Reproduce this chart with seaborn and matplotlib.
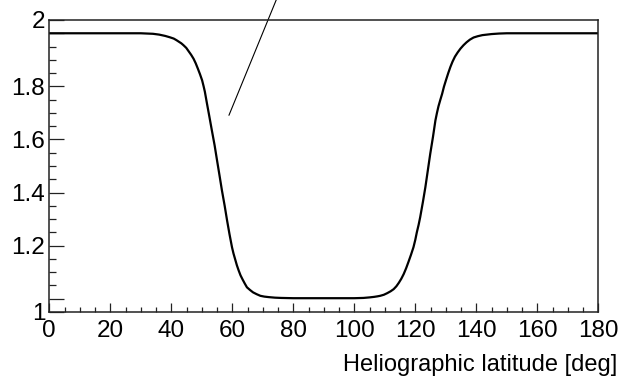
import matplotlib
matplotlib.use("Agg")
import matplotlib.pyplot as plt
import seaborn as sns
import pandas as pd
from matplotlib.ticker import MultipleLocator, FixedLocator

# ---- data ----
latitude = [0, 10, 20, 30, 32, 34, 36, 38, 39.5, 40.8, 41.7, 42.5, 43.3, 44.0, 44.9,
            45.7, 46.5, 47.3, 48.0, 48.7, 49.4, 50.1, 50.6, 51.0, 51.7, 52.5, 53.3,
            54.2, 55.0, 55.8, 56.6, 57.5, 58.3, 59.1, 59.9, 60.4, 61.0, 61.5, 62.1,
            62.7, 63.4, 64.1, 64.8, 65.8, 66.8, 68.0, 69.2, 70.5, 72.0, 74, 76, 80,
            85, 90, 95, 100, 103, 105, 106.5, 107.6, 108.5, 109.7, 110.8, 111.9,
            112.9, 113.8, 114.6, 115.4, 116.2, 117.0, 117.8, 118.6, 119.4, 120.0,
            120.5, 121.1, 121.6, 122.5, 123.3, 124.1, 124.9, 125.8, 126.6, 127.1,
            127.6, 128.2, 128.8, 129.4, 130.1, 130.8, 131.5, 132.2, 133.0, 133.9,
            134.8, 135.8, 136.8, 137.9, 139.1, 140.5, 142, 143.5, 145, 147.5, 150,
            160, 170, 180]
ratio = [2.0, 2.0, 2.0, 2.0, 1.999, 1.998, 1.995, 1.990, 1.985, 1.980, 1.974, 1.968,
         1.962, 1.955, 1.945, 1.932, 1.919, 1.904, 1.887, 1.867, 1.846, 1.823, 1.800,
         1.780, 1.735, 1.685, 1.634, 1.578, 1.521, 1.465, 1.408, 1.350, 1.294, 1.242,
         1.194, 1.170, 1.146, 1.126, 1.106, 1.088, 1.072, 1.057, 1.043, 1.033, 1.024,
         1.017, 1.011, 1.008, 1.006, 1.004, 1.003, 1.002, 1.002, 1.002, 1.002, 1.002,
         1.003, 1.005, 1.007, 1.009, 1.011, 1.015, 1.021, 1.028, 1.036, 1.047, 1.060,
         1.075, 1.093, 1.115, 1.140, 1.166, 1.194, 1.222, 1.250, 1.279, 1.307, 1.365,
         1.420, 1.483, 1.546, 1.610, 1.672, 1.700, 1.725, 1.749, 1.772, 1.799, 1.825,
         1.850, 1.873, 1.893, 1.912, 1.928, 1.942, 1.955, 1.966, 1.976, 1.984, 1.989,
         1.993, 1.995, 1.997, 1.999, 2.0, 2.0, 2.0, 2.0]

# pointer line (from outside the frame down to the curve)
pointer_x = [75.7, 58.9]
pointer_y = [2.162, 1.691]

y_tick_values = [0.95, 1.0, 1.2, 1.4, 1.6, 1.8, 2.0, 2.05]
y_tick_labels = ["1", "", "1.2", "1.4", "1.6", "1.8", "", "2"]
x_tick_values = [0, 20, 40, 60, 80, 100, 120, 140, 160, 180]
x_tick_labels = ["0", "20", "40", "60", "80", "100", "120", "140", "160", "180"]
x_label = "Heliographic latitude [deg]"

df = pd.DataFrame({"lat": latitude, "ratio": ratio})

sns.set_theme(style="white")
plt.rcParams["font.family"] = ["Liberation Sans", "DejaVu Sans"]

fig = plt.figure(figsize=(6.2, 3.79), dpi=100)
W, H = 620, 379
left, right, top, bottom = 49.3, 598.3, 20, 312
ax = fig.add_axes([left / W, 1 - bottom / H, (right - left) / W, (bottom - top) / H])

sns.lineplot(data=df, x="lat", y="ratio", ax=ax, color="black", linewidth=1.6,
             sort=False, estimator=None)
ax.plot(pointer_x, pointer_y, color="black", linewidth=0.8, clip_on=False)

ax.set_xlim(0, 180)
ax.set_ylim(0.95, 2.05)

ax.xaxis.set_major_locator(FixedLocator(x_tick_values))
ax.set_xticklabels(x_tick_labels)
ax.xaxis.set_minor_locator(MultipleLocator(5))
ax.yaxis.set_major_locator(FixedLocator(y_tick_values))
ax.set_yticklabels(y_tick_labels)
ax.yaxis.set_minor_locator(MultipleLocator(0.05))

ax.tick_params(axis="x", which="major", direction="in", length=6.7, width=0.9,
               color="#222222", labelsize=17.5, labelcolor="black", pad=6,
               bottom=True, top=False)
ax.tick_params(axis="x", which="minor", direction="in", length=3.6, width=0.9,
               color="#222222", bottom=True, top=False)
ax.tick_params(axis="y", which="major", direction="in", length=10.6, width=0.9,
               color="#222222", labelsize=17.5, labelcolor="black", pad=3,
               left=True, right=False)
ax.tick_params(axis="y", which="minor", direction="in", length=5.3, width=0.9,
               color="#222222", left=True, right=False)

for s in ax.spines.values():
    s.set_color("#222222")
    s.set_linewidth(1.1)
    s.set_visible(True)

ax.set_xlabel("")
ax.set_ylabel("")
fig.text(617 / W, 1 - 371 / H, x_label, ha="right", va="baseline", fontsize=17,
         color="black")

fig.savefig("out.png", dpi=100, facecolor="white")
